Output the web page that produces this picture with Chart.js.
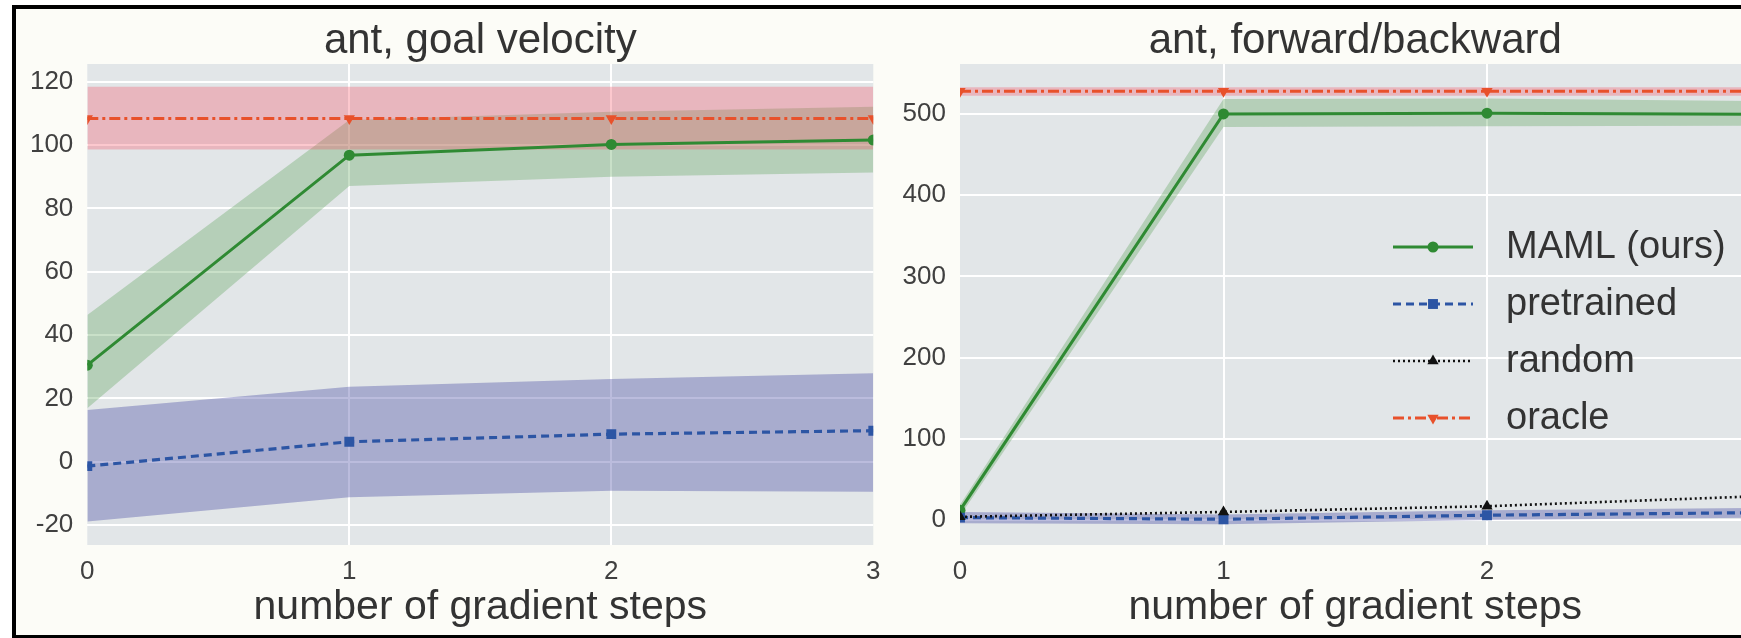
<!DOCTYPE html>
<html>
<head>
<meta charset="utf-8">
<script src="https://cdn.jsdelivr.net/npm/chart.js@4.4.1/dist/chart.umd.min.js"></script>
<style>
  html, body { margin: 0; padding: 0; background: #fff; overflow: hidden; }
  body { width: 1741px; height: 638px; position: relative; }
  #frame {
    position: absolute; left: 12px; top: 5px; width: 1760px; height: 626px;
    background: #fcfcf7; border: 4px solid #000; border-right: none; border-bottom-width: 3px;
  }
  canvas { position: absolute; top: 0; }
  #goalChart { left: 0; }
  #dirChart { left: 880px; }
</style>
</head>
<body>
<div id="frame"></div>
<canvas id="goalChart" width="910" height="638"></canvas>
<canvas id="dirChart" width="890" height="638"></canvas>
<script>
const steps = [0, 1, 2, 3];
const goalTicks = [-20, 0, 20, 40, 60, 80, 100, 120];
const dirTicks = [0, 100, 200, 300, 400, 500];

// ant, goal velocity
const goalMaml     = [30.5, 96.8, 100.2, 101.6];
const goalMamlLo   = [16.9, 87.1, 90.0, 91.3];
const goalMamlHi   = [46.3, 107.9, 110.5, 112.1];
const goalPre      = [-1.4, 6.3, 8.7, 9.8];
const goalPreLo    = [-18.9, -11.2, -9.2, -9.5];
const goalPreHi    = [16.3, 23.7, 26.1, 27.9];
const goalOracle   = [108.4, 108.4, 108.4, 108.4];
const goalOracleLo = [98.6, 98.6, 98.6, 98.6];
const goalOracleHi = [118.4, 118.4, 118.4, 118.4];

// ant, forward/backward
const dirMaml     = [12, 500, 501, 499.5];
const dirMamlLo   = [5, 484, 485, 485.5];
const dirMamlHi   = [19, 518.5, 519, 516];
const dirPre      = [3, 1, 6, 9];
const dirPreLo    = [-4, -5, 0, 3];
const dirPreHi    = [10, 7, 12, 15];
const dirRandom   = [4, 10, 17, 29];
const dirOracle   = [528, 528, 528, 528];
const dirOracleLo = [522.5, 522.5, 522.5, 522.5];
const dirOracleHi = [533, 533, 533, 533];

const FONT = "'Liberation Sans', Arial, sans-serif";
Chart.defaults.font.family = FONT;

const styles = {
  maml:   { label: 'MAML (ours)', color: '#2f8a33', band: 'rgba(86,160,85,0.32)', dash: [], point: 'circle', radius: 5.5, rotation: 0, width: 3 },
  pre:    { label: 'pretrained', color: '#2c55a4', band: 'rgba(60,64,158,0.35)', dash: [8, 5], point: 'rect', radius: 7, rotation: 0, width: 3.2 },
  random: { label: 'random', color: '#111', band: null, dash: [2, 3], point: 'triangle', radius: 6.5, rotation: 0, width: 2.6 },
  oracle: { label: 'oracle', color: '#e8512b', band: 'rgba(246,73,92,0.3)', dash: [11, 4, 3, 4], point: 'triangle', radius: 6.5, rotation: 180, width: 3 }
};

const xy = arr => steps.map((x, i) => ({ x, y: arr[i] }));

function line(key, values) {
  const s = styles[key];
  return {
    label: s.label, data: xy(values), borderColor: s.color, backgroundColor: s.color,
    borderWidth: s.width, borderDash: s.dash, pointStyle: s.point, pointRadius: s.radius,
    pointRotation: s.rotation, pointBorderWidth: 0, fill: false, tension: 0, clip: 0
  };
}

// pair of datasets: upper edge, then lower edge filled up to it
function band(key, lo, hi) {
  const s = styles[key];
  return [
    { data: xy(hi), borderWidth: 0, borderColor: 'transparent', pointRadius: 0, fill: false, tension: 0, clip: 0 },
    { data: xy(lo), borderWidth: 0, borderColor: 'transparent', pointRadius: 0, fill: '-1',
      backgroundColor: s.band, tension: 0, clip: 0 }
  ];
}

const plotBackground = {
  id: 'plotBackground',
  beforeDraw(chart) {
    const { ctx, chartArea: a } = chart;
    ctx.save();
    ctx.fillStyle = '#e2e6e8';
    ctx.fillRect(a.left, a.top, a.right - a.left, a.bottom - a.top);
    ctx.restore();
  }
};

function scales(yMin, yMax, yTicks, yWidth) {
  return {
    x: {
      type: 'linear', min: 0, max: 3,
      afterBuildTicks: s => { s.ticks = steps.map(v => ({ value: v })); },
      afterFit: s => { s.height = 90; },
      ticks: { padding: 11, font: { size: 26 }, color: '#404040' },
      grid: { color: c => (c.tick && (c.tick.value === 0 || c.tick.value === 3)) ? 'transparent' : '#fff', lineWidth: 2, drawTicks: false },
      border: { display: false },
      title: { display: true, text: 'number of gradient steps', font: { size: 41 }, color: '#333', padding: { top: 0, bottom: 3 } }
    },
    y: {
      min: yMin, max: yMax,
      afterBuildTicks: s => { s.ticks = yTicks.map(v => ({ value: v })); },
      afterFit: s => { s.width = yWidth; },
      ticks: { padding: 14, font: { size: 26 }, color: '#404040' },
      grid: { color: '#fff', lineWidth: 2, drawTicks: false },
      border: { display: false }
    }
  };
}

function titleOpts(text) {
  return {
    display: true, text, color: '#333', fullSize: false,
    font: { size: 42, weight: 'normal', lineHeight: 1 },
    padding: { top: 20, bottom: 2 }
  };
}

function drawMarker(ctx, s, x, y) {
  const r = s.radius;
  ctx.beginPath();
  if (s.point === 'circle') {
    ctx.arc(x, y, r, 0, Math.PI * 2);
  } else if (s.point === 'rect') {
    const h = r / Math.SQRT2;
    ctx.rect(x - h, y - h, 2 * h, 2 * h);
  } else {
    const d = s.rotation === 180 ? -1 : 1;
    ctx.moveTo(x, y - d * r);
    ctx.lineTo(x - r * 0.87, y + d * r * 0.5);
    ctx.lineTo(x + r * 0.87, y + d * r * 0.5);
    ctx.closePath();
  }
  ctx.fillStyle = s.color;
  ctx.fill();
}

// legend inside the plot area, line sample with its marker
const insideLegend = {
  id: 'insideLegend',
  afterDraw(chart) {
    const { ctx, chartArea: a } = chart;
    const keys = ['maml', 'pre', 'random', 'oracle'];
    ctx.save();
    ctx.font = '38px ' + FONT;
    ctx.textBaseline = 'middle';
    keys.forEach((k, i) => {
      const s = styles[k];
      const y = a.top + 183 + i * 57;
      const x0 = a.left + 433, x1 = a.left + 513;
      ctx.strokeStyle = s.color;
      ctx.lineWidth = s.width;
      ctx.setLineDash(s.dash);
      ctx.beginPath();
      ctx.moveTo(x0, y);
      ctx.lineTo(x1, y);
      ctx.stroke();
      ctx.setLineDash([]);
      drawMarker(ctx, s, (x0 + x1) / 2, y);
      ctx.fillStyle = '#333';
      ctx.fillText(s.label, a.left + 546, y + 1);
    });
    ctx.restore();
  }
};

new Chart(document.getElementById('goalChart'), {
  type: 'line',
  data: {
    datasets: [
      line('oracle', goalOracle),
      line('pre', goalPre),
      line('maml', goalMaml),
      ...band('oracle', goalOracleLo, goalOracleHi),
      ...band('pre', goalPreLo, goalPreHi),
      ...band('maml', goalMamlLo, goalMamlHi)
    ]
  },
  options: {
    responsive: false, animation: false,
    layout: { padding: { top: 0, bottom: 3, left: 0, right: 36.7 } },
    scales: scales(-26.3, 125.6, goalTicks, 87.3),
    plugins: { legend: { display: false }, tooltip: { enabled: false }, title: titleOpts('ant, goal velocity'), filler: { propagate: false } }
  },
  plugins: [plotBackground]
});

new Chart(document.getElementById('dirChart'), {
  type: 'line',
  data: {
    datasets: [
      line('oracle', dirOracle),
      line('random', dirRandom),
      line('pre', dirPre),
      line('maml', dirMaml),
      ...band('oracle', dirOracleLo, dirOracleHi),
      ...band('pre', dirPreLo, dirPreHi),
      ...band('maml', dirMamlLo, dirMamlHi)
    ]
  },
  options: {
    responsive: false, animation: false,
    layout: { padding: { top: 0, bottom: 3, left: 0, right: 19.5 } },
    scales: scales(-30.7, 561.5, dirTicks, 80),
    plugins: { legend: { display: false }, tooltip: { enabled: false }, title: titleOpts('ant, forward/backward'), filler: { propagate: false } }
  },
  plugins: [plotBackground, insideLegend]
});
</script>
</body>
</html>
